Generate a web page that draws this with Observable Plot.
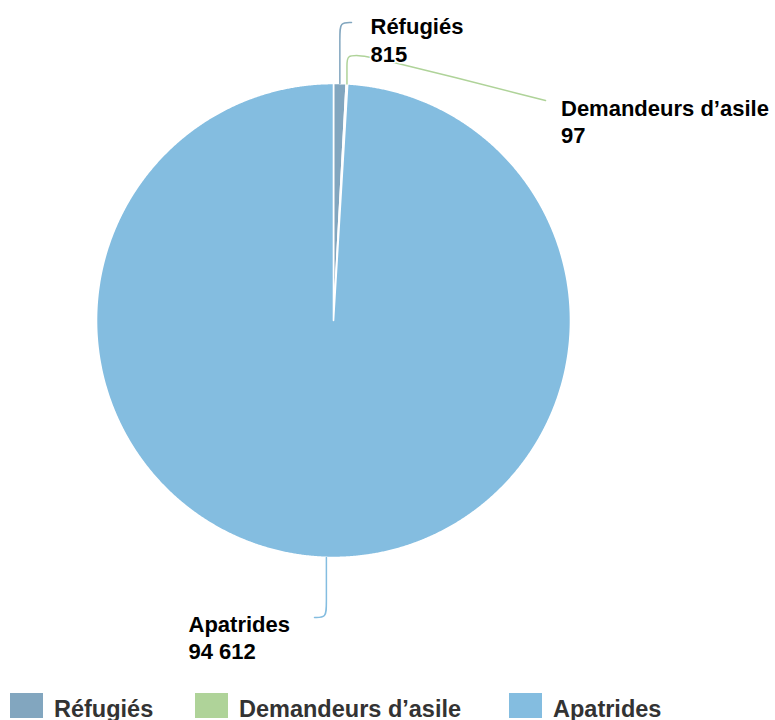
<!DOCTYPE html>
<html><head><meta charset="utf-8">
<script src="https://cdn.jsdelivr.net/npm/d3@7"></script>
<script src="https://cdn.jsdelivr.net/npm/@observablehq/plot@0.6"></script>
<style>
body{margin:0;background:#fff;font-family:"Liberation Sans",Arial,Helvetica,sans-serif;}
#legend{position:relative;height:40px;margin-top:13px;}
.item{position:absolute;top:0;display:flex;align-items:flex-start;}
.sw{width:33px;height:25px;margin-right:11px;}
.lab{font-weight:bold;font-size:23.5px;color:#333;line-height:25px;position:relative;top:3.5px;white-space:nowrap;}
</style></head><body><div id="chart"></div><div id="legend"></div>
<script>
// ---- data ----
const categories = ["Réfugiés", "Demandeurs d’asile", "Apatrides"];
const values = [815, 97, 94612];
const colors = ["#82a6bf", "#afd399", "#84bde0"];

// ---- layout (pixels) ----
const W = 775, H = 680;
const pie = {cx: 333, cy: 320, r: 237};
const labelX = [370, 560.5, 188];
const labelBase1 = [33.5, 115, 631.5];
const labelBase2 = [61.5, 142, 658];
const legendX = [10, 195, 509];
// leader line bends, after the start point on the slice edge
const leaderBends = [
  [[0, 34], [0, 22], [351, 22]],
  [[0, 64], [0, 55], [358, 55], [372, 56], [545, 100]],
  [[0, 605], [0, 617], [314, 617]]
];
const fontSize = 22;

const fmt = d3.formatLocale({decimal: ",", thousands: "\u00a0", grouping: [3], currency: ["", " €"]}).format(",d");

// angles from 12 o'clock, clockwise
const total = d3.sum(values);
let acc = 0;
const arcs = values.map((v, i) => {
  const a0 = acc / total * 2 * Math.PI;
  acc += v;
  const a1 = acc / total * 2 * Math.PI;
  return {cat: categories[i], a0, a1, mid: (a0 + a1) / 2};
});
const px = a => pie.cx + pie.r * Math.sin(a);
const py = a => pie.cy - pie.r * Math.cos(a);

const slicePts = [];
arcs.forEach(s => {
  slicePts.push({cat: s.cat, x: pie.cx, y: pie.cy});
  const n = Math.max(2, Math.ceil((s.a1 - s.a0) / (Math.PI / 720)));
  for (let k = 0; k <= n; k++) {
    const a = s.a0 + (s.a1 - s.a0) * k / n;
    slicePts.push({cat: s.cat, x: px(a), y: py(a)});
  }
  slicePts.push({cat: s.cat, x: pie.cx, y: pie.cy});
});

const leaderPts = [];
arcs.forEach((s, i) => {
  const sx = px(s.mid), sy = py(s.mid);
  leaderPts.push({cat: s.cat, x: sx, y: sy});
  leaderBends[i].forEach(([bx, by]) => leaderPts.push({cat: s.cat, x: bx === 0 ? sx : bx, y: by}));
});

const labels = categories.map((c, i) => ({
  cat: c, value: fmt(values[i]), x: labelX[i],
  y1: labelBase1[i] - 0.32 * fontSize, y2: labelBase2[i] - 0.32 * fontSize
}));

const chart = Plot.plot({
  width: W, height: H, margin: 0,
  style: {display: "block", fontFamily: "'Liberation Sans', Arial, Helvetica, sans-serif", background: "#fff"},
  x: {domain: [0, W], range: [0, W], axis: null},
  y: {domain: [0, H], range: [0, H], axis: null},
  color: {domain: categories, range: colors},
  marks: [
    Plot.line(slicePts, {x: "x", y: "y", z: "cat", fill: "cat", stroke: "white", strokeWidth: 1.6, strokeLinejoin: "round"}),
    Plot.line(leaderPts, {x: "x", y: "y", z: "cat", stroke: "cat", strokeWidth: 1.5, curve: "basis"}),
    Plot.text(labels, {x: "x", y: "y1", text: "cat", textAnchor: "start", fontSize, fontWeight: "bold", fill: "#000", stroke: "white", strokeWidth: 3}),
    Plot.text(labels, {x: "x", y: "y2", text: "value", textAnchor: "start", fontSize, fontWeight: "bold", fill: "#000", stroke: "white", strokeWidth: 3})
  ]
});
document.getElementById("chart").append(chart);

const legend = document.getElementById("legend");
categories.forEach((c, i) => {
  const item = document.createElement("div");
  item.className = "item";
  item.style.left = legendX[i] + "px";
  const sw = document.createElement("div");
  sw.className = "sw";
  sw.style.background = colors[i];
  const lab = document.createElement("span");
  lab.className = "lab";
  lab.textContent = c;
  item.append(sw, lab);
  legend.append(item);
});
</script>
</body></html>
